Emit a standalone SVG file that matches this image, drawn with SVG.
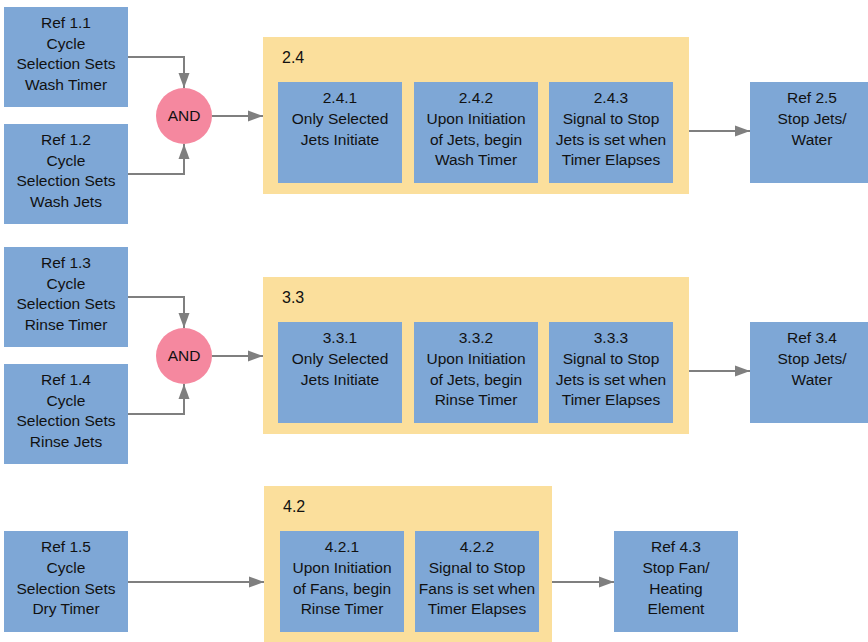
<svg xmlns="http://www.w3.org/2000/svg" width="868" height="642" viewBox="0 0 868 642">
<defs>
<marker id="arr" markerUnits="userSpaceOnUse" markerWidth="16" markerHeight="12" refX="15" refY="6" orient="auto">
<path d="M0,0.5 L15,6 L0,11.5 z" fill="#7f7f7f"/>
</marker>
<style>
.b{fill:#7ea7d6}
.c{fill:#fbdf9c}
.g{fill:#f5889f}
text{font-family:"Liberation Sans",Arial,sans-serif;font-size:15.5px;fill:#111;text-anchor:middle}
.l{text-anchor:start;font-size:16px}
.e{fill:none;stroke:#7f7f7f;stroke-width:2;marker-end:url(#arr)}
</style>
</defs>
<rect width="868" height="642" fill="#fff"/>

<!-- Row 1 -->
<g id="ref11"><rect class="b" x="4" y="7" width="124" height="100"/>
<text x="66" y="28">Ref 1.1</text><text x="66" y="49">Cycle</text><text x="66" y="69">Selection Sets</text><text x="66" y="90">Wash Timer</text></g>
<g id="ref12"><rect class="b" x="4" y="124" width="124" height="100"/>
<text x="66" y="145">Ref 1.2</text><text x="66" y="166">Cycle</text><text x="66" y="186">Selection Sets</text><text x="66" y="207">Wash Jets</text></g>
<g id="and1"><circle class="g" cx="184" cy="116" r="28"/><text x="184" y="121">AND</text></g>
<g id="c24"><rect class="c" x="263" y="37" width="426" height="157"/><text class="l" x="282" y="63">2.4</text></g>
<g id="n241"><rect class="b" x="278" y="82" width="124" height="101"/>
<text x="340" y="103">2.4.1</text><text x="340" y="124">Only Selected</text><text x="340" y="145">Jets Initiate</text></g>
<g id="n242"><rect class="b" x="414" y="82" width="124" height="101"/>
<text x="476" y="103">2.4.2</text><text x="476" y="124">Upon Initiation</text><text x="476" y="145">of Jets, begin</text><text x="476" y="165">Wash Timer</text></g>
<g id="n243"><rect class="b" x="549" y="82" width="124" height="101"/>
<text x="611" y="103">2.4.3</text><text x="611" y="124">Signal to Stop</text><text x="611" y="145">Jets is set when</text><text x="611" y="165">Timer Elapses</text></g>
<g id="ref25"><rect class="b" x="750" y="82" width="124" height="101"/>
<text x="812" y="103">Ref 2.5</text><text x="812" y="124">Stop Jets/</text><text x="812" y="145">Water</text></g>

<!-- Row 2 -->
<g id="ref13"><rect class="b" x="4" y="247" width="124" height="100"/>
<text x="66" y="268">Ref 1.3</text><text x="66" y="289">Cycle</text><text x="66" y="309">Selection Sets</text><text x="66" y="330">Rinse Timer</text></g>
<g id="ref14"><rect class="b" x="4" y="364" width="124" height="100"/>
<text x="66" y="385">Ref 1.4</text><text x="66" y="406">Cycle</text><text x="66" y="426">Selection Sets</text><text x="66" y="447">Rinse Jets</text></g>
<g id="and2"><circle class="g" cx="184" cy="356" r="28"/><text x="184" y="361">AND</text></g>
<g id="c33"><rect class="c" x="263" y="277" width="426" height="157"/><text class="l" x="282" y="303">3.3</text></g>
<g id="n331"><rect class="b" x="278" y="322" width="124" height="101"/>
<text x="340" y="343">3.3.1</text><text x="340" y="364">Only Selected</text><text x="340" y="385">Jets Initiate</text></g>
<g id="n332"><rect class="b" x="414" y="322" width="124" height="101"/>
<text x="476" y="343">3.3.2</text><text x="476" y="364">Upon Initiation</text><text x="476" y="385">of Jets, begin</text><text x="476" y="405">Rinse Timer</text></g>
<g id="n333"><rect class="b" x="549" y="322" width="124" height="101"/>
<text x="611" y="343">3.3.3</text><text x="611" y="364">Signal to Stop</text><text x="611" y="385">Jets is set when</text><text x="611" y="405">Timer Elapses</text></g>
<g id="ref34"><rect class="b" x="750" y="322" width="124" height="101"/>
<text x="812" y="343">Ref 3.4</text><text x="812" y="364">Stop Jets/</text><text x="812" y="385">Water</text></g>

<!-- Row 3 -->
<g id="ref15"><rect class="b" x="4" y="531" width="124" height="101"/>
<text x="66" y="552">Ref 1.5</text><text x="66" y="573">Cycle</text><text x="66" y="594">Selection Sets</text><text x="66" y="614">Dry Timer</text></g>
<g id="c42"><rect class="c" x="264" y="486" width="288" height="156"/><text class="l" x="283" y="512">4.2</text></g>
<g id="n421"><rect class="b" x="280" y="531" width="124" height="101"/>
<text x="342" y="552">4.2.1</text><text x="342" y="573">Upon Initiation</text><text x="342" y="594">of Fans, begin</text><text x="342" y="614">Rinse Timer</text></g>
<g id="n422"><rect class="b" x="415" y="531" width="124" height="101"/>
<text x="477" y="552">4.2.2</text><text x="477" y="573">Signal to Stop</text><text x="477" y="594">Fans is set when</text><text x="477" y="614">Timer Elapses</text></g>
<g id="ref43"><rect class="b" x="614" y="531" width="124" height="101"/>
<text x="676" y="552">Ref 4.3</text><text x="676" y="573">Stop Fan/</text><text x="676" y="594">Heating</text><text x="676" y="614">Element</text></g>

<g id="connectors">
<path class="e" d="M128,57 H184 V88"/>
<path class="e" d="M128,174 H184 V144"/>
<path class="e" d="M212,116 H263"/>
<path class="e" d="M689,131 H750"/>
<path class="e" d="M128,297 H184 V328"/>
<path class="e" d="M128,414 H184 V384"/>
<path class="e" d="M212,356 H263"/>
<path class="e" d="M689,371 H750"/>
<path class="e" d="M128,582 H264"/>
<path class="e" d="M552,582 H614"/>
</g>
</svg>
